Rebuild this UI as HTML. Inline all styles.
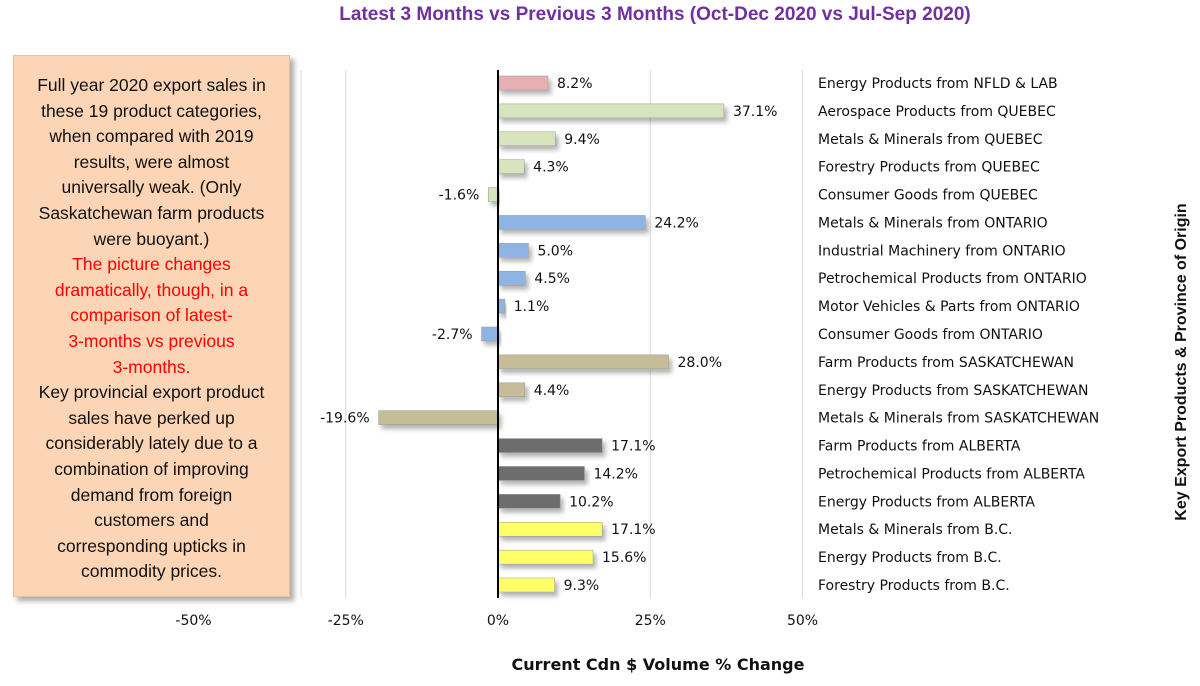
<!DOCTYPE html>
<html><head><meta charset="utf-8"><style>
body{margin:0;width:1200px;height:686px;background:#fff;font-family:"Liberation Sans",sans-serif;position:relative;overflow:hidden}
#title{position:absolute;left:0;width:1310px;top:4px;text-align:center;color:#7030a0;font-weight:bold;font-size:19px}
#note{position:absolute;left:13px;top:55px;width:277px;height:542px;background:#fbd5b5;box-shadow:4px 4px 5px #aaa;border:1px solid #e8c0a0;box-sizing:border-box;text-align:center;font-size:17.5px;line-height:25.6px;padding-top:17px;color:#111}
.red{color:#f00}
svg{position:absolute;left:0;top:0}
</style></head><body>
<div id="title">Latest 3 Months vs Previous 3 Months (Oct-Dec 2020 vs Jul-Sep 2020)</div>
<div id="note">Full year 2020 export sales in<br>these 19 product categories,<br>when compared with 2019<br>results, were almost<br>universally weak. (Only<br>Saskatchewan farm products<br>were buoyant.)<br><span class="red">The picture changes<br>dramatically, though, in a<br>comparison of latest-<br>3-months vs previous<br>3-months.</span><br>Key provincial export product<br>sales have perked up<br>considerably lately due to a<br>combination of improving<br>demand from foreign<br>customers and<br>corresponding upticks in<br>commodity prices.</div>
<svg id="chart" width="1200" height="686"></svg>
<script>
const categories=["Energy Products from NFLD & LAB","Aerospace Products from QUEBEC","Metals & Minerals from QUEBEC","Forestry Products from QUEBEC","Consumer Goods from QUEBEC","Metals & Minerals from ONTARIO","Industrial Machinery from ONTARIO","Petrochemical Products from ONTARIO","Motor Vehicles & Parts from ONTARIO","Consumer Goods from ONTARIO","Farm Products from SASKATCHEWAN","Energy Products from SASKATCHEWAN","Metals & Minerals from SASKATCHEWAN","Farm Products from ALBERTA","Petrochemical Products from ALBERTA","Energy Products from ALBERTA","Metals & Minerals from B.C.","Energy Products from B.C.","Forestry Products from B.C."];
const values=[8.2,37.1,9.4,4.3,-1.6,24.2,5.0,4.5,1.1,-2.7,28.0,4.4,-19.6,17.1,14.2,10.2,17.1,15.6,9.3];
const provinces=["NL","QC","QC","QC","QC","ON","ON","ON","ON","ON","SK","SK","SK","AB","AB","AB","BC","BC","BC"];
const ticks=[-50,-25,0,25,50];
const colors={NL:"#e6b0b3",QC:"#d7e4bd",ON:"#8eb4e3",SK:"#c4bd97",AB:"#6d6d6d",BC:"#ffff66"};
const svg=document.getElementById('chart');const NS="http://www.w3.org/2000/svg";
const x=v=>498+v*6.09;
const y=i=>83+i*(502/18);
function mk(t,a){const e=document.createElementNS(NS,t);for(const k in a)e.setAttribute(k,a[k]);svg.appendChild(e);return e;}
const defs=mk('defs',{});defs.innerHTML='<filter id="sh" x="-10%" y="-50%" width="130%" height="250%"><feDropShadow dx="3" dy="4" stdDeviation="2.5" flood-color="#000" flood-opacity="0.3"/></filter>';
let b=mk('line',{x1:301,x2:301,y1:70,y2:598,stroke:'#ddd'});


ticks.forEach(t=>{
 if(t!==0&&x(t)>300){const g=mk('line',{x1:x(t),x2:x(t),y1:70,y2:598,stroke:'#d9d9d9'});
 
 }
 const l=mk('text',{x:x(t),y:625,'text-anchor':'middle','font-size':14,'font-family':'DejaVu Sans, sans-serif',fill:'#111'});l.textContent=t+'%';
 
 
});
values.forEach((v,i)=>{
 const x0=Math.min(x(0),x(v)),w=Math.abs(x(v)-x(0));
 const r=mk('rect',{x:x0,y:y(i)-7,width:w,height:14,fill:colors[provinces[i]],stroke:'#999','stroke-width':0.5,filter:'url(#sh)'});
 
 
 const t=mk('text',{x:v>=0?x(v)+9:x(v)-9,y:y(i)+5,'text-anchor':v>=0?'start':'end','font-size':14,'font-family':'DejaVu Sans, sans-serif',fill:'#111'});
 t.textContent=v.toFixed(1)+'%';
 
 
 const c=mk('text',{x:818,y:y(i)+5,'font-size':14,'font-family':'DejaVu Sans, sans-serif',fill:'#111'});
 c.textContent=categories[i];
 
 
});
const z=mk('line',{x1:x(0),x2:x(0),y1:70,y2:598,stroke:'#000','stroke-width':2});


const xt=mk('text',{x:658,y:670,'text-anchor':'middle','font-size':16,'font-weight':'bold','font-family':'DejaVu Sans, sans-serif',fill:'#111'});
xt.textContent='Current Cdn $ Volume % Change';


const yt=mk('text',{x:0,y:0,transform:'translate(1186,362) rotate(-90)','text-anchor':'middle','font-size':16,'font-weight':'bold','font-family':'Liberation Sans, sans-serif',fill:'#111'});
yt.textContent='Key Export Products & Province of Origin';


</script>
</body></html>
